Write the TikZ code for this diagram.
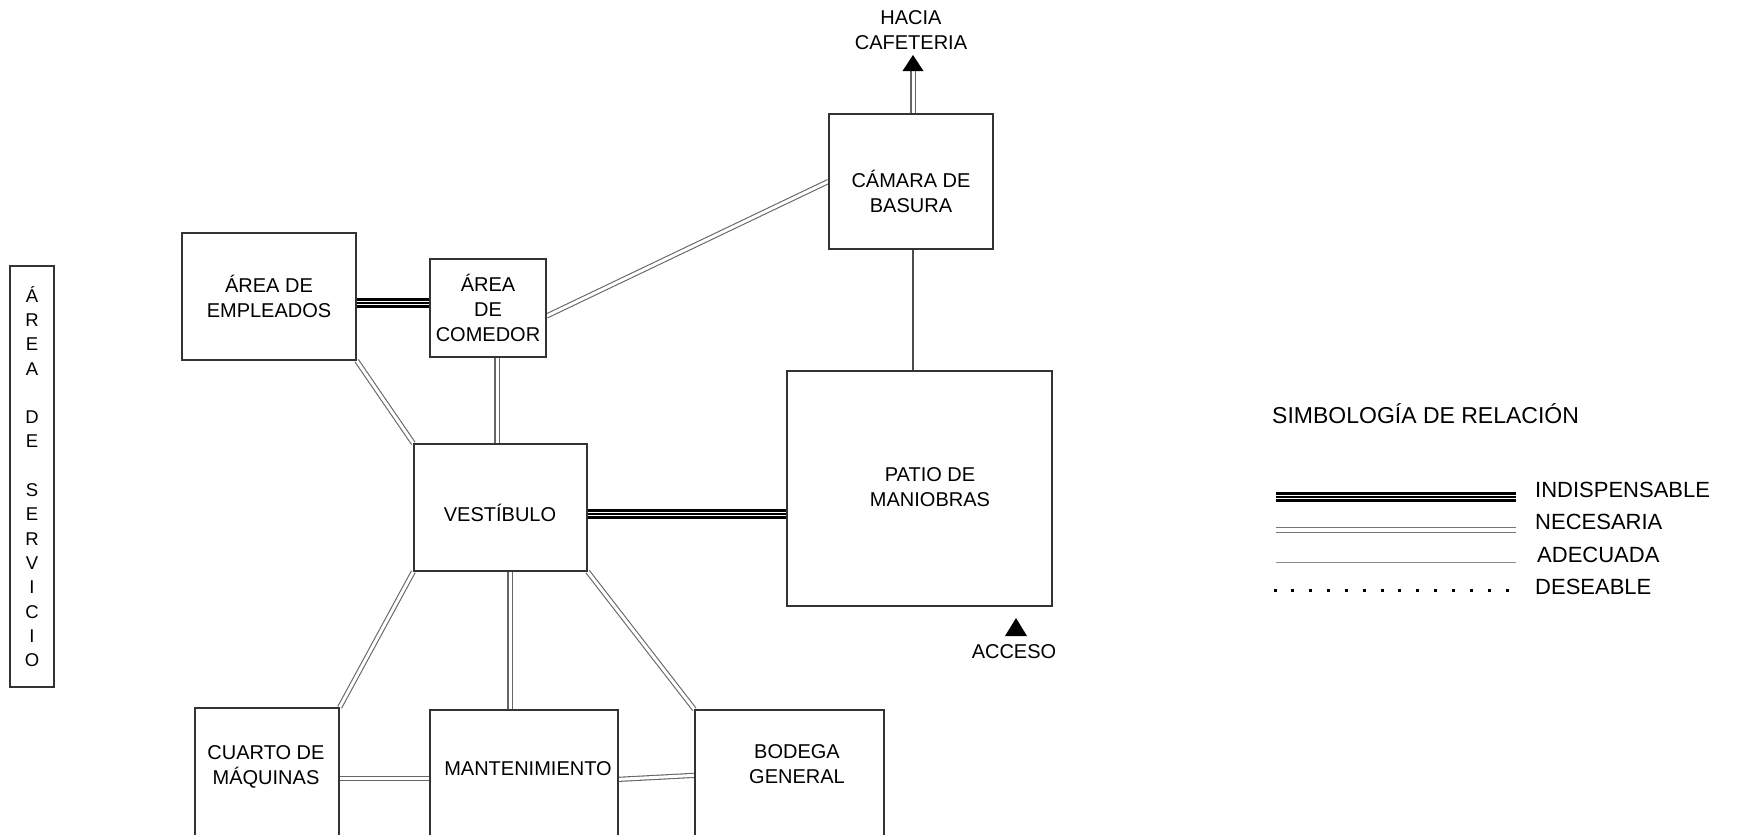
\documentclass[tikz,border=0pt]{standalone}
\usepackage{fontspec}
\setmainfont{Liberation Sans}
\usetikzlibrary{backgrounds}
\begin{document}
\begin{tikzpicture}[x=1pt,y=-1pt,
  box/.style={draw=black!80, line width=1.3pt, inner sep=0pt, align=center, font=\fontsize{20}{25}\selectfont},
  lbl/.style={inner sep=0pt, align=center, font=\fontsize{20}{25}\selectfont},
  nec/.style={draw=black!60, line width=1.1pt, double=white, double distance=3pt},
  ind/.style={draw=black, line width=10pt, postaction={draw=white, line width=3.1pt}, postaction={draw=black, line width=1.2pt}},
  ade/.style={draw=black!70, line width=1.1pt},
  des/.style={draw=black, line width=3pt, dash pattern=on 3pt off 14.85pt},
  leg/.style={inner sep=0pt, anchor=west, text height=15.8pt, text depth=0pt, font=\fontsize{22}{26}\selectfont}]

\useasboundingbox (0,0) rectangle (1738,835);
\clip (0,0) rectangle (1738,835);

% side box
\node[box, minimum width=44pt, minimum height=421pt, font=\fontsize{18.5}{24.3}\selectfont] (serv) at (32,476.5)
  {Á\\R\\E\\A\\[24.3pt]D\\E\\[24.3pt]S\\E\\R\\V\\I\\C\\I\\O};

% boxes
\node[box, minimum width=174pt, minimum height=127pt] (emp) at (269,296.5) {ÁREA DE\\EMPLEADOS};
\node[box, minimum width=116pt, minimum height=98pt] (com) at (488,308) {ÁREA\\DE\\COMEDOR};
\node[box, minimum width=173pt, minimum height=127pt] (ves) at (500.5,507.5) {};
\node[lbl] (vesT) at (500,513) {VESTÍBULO};
\node[box, minimum width=164pt, minimum height=135pt] (cam) at (911,181.5) {};
\node[lbl] (camT) at (911,191) {CÁMARA DE\\BASURA};
\node[box, minimum width=265pt, minimum height=235pt] (patio) at (919.5,488.5) {};
\node[lbl] (patT) at (930,487) {PATIO DE\\MANIOBRAS};
\node[box, minimum width=144pt, minimum height=192pt] (cuarto) at (267,804) {};
\node[lbl] (cuartoT) at (266,767) {CUARTO DE\\MÁQUINAS};
\node[box, minimum width=188pt, minimum height=190pt] (mant) at (524,805) {};
\node[lbl] (mantT) at (528,769) {MANTENIMIENTO};
\node[box, minimum width=189pt, minimum height=190pt] (bod) at (789.5,805) {};
\node[lbl] (bodT) at (797,764) {BODEGA\\GENERAL};

% hacia cafeteria
\coordinate (cafe) at (913,70);
\coordinate (cafetip) at (913,55);
\fill[black] (cafetip) -- ++(10.5,16) -- ++(-21,0) -- cycle;
\node[lbl] (hacia) at (911,30) {HACIA\\CAFETERIA};

% acceso
\coordinate (acctip) at (1016,618);
\fill[black] (acctip) -- ++(11,18) -- ++(-22,0) -- cycle;
\node[lbl] (acceso) at (1014,652) {ACCESO};

% connectors
\begin{scope}[on background layer]
\draw[ind] ([yshift=-6.5pt]emp.east) -- ([yshift=-6.5pt]emp.east -| com.west);
\draw[ind] ([yshift=-6.5pt]ves.east) -- ([yshift=-6.5pt]ves.east -| patio.west);
\draw[nec] ([yshift=-8pt]com.east) -- (cam.west);
\draw[nec] (emp.south east) -- (ves.north west);
\draw[nec] ([xshift=9pt]com.south) -- ([xshift=9pt]com.south |- ves.north);
\draw[nec] (ves.south west) -- (cuarto.north east);
\draw[nec] ([xshift=9.5pt]ves.south) -- ([xshift=9.5pt]ves.south |- mant.north);
\draw[nec] (ves.south east) -- (bod.north west);
\draw[nec] ([yshift=-71pt]cuarto.north east) -- ([yshift=-69pt]mant.north west);
\draw[nec] ([yshift=-70pt]mant.north east) -- ([yshift=-66pt]bod.north west);
\draw[ade] ([xshift=2pt]cam.south) -- ([xshift=2pt]cam.south |- patio.north);
\draw[nec] ([xshift=2pt]cam.north) -- (cafe);
\end{scope}

% legend
\node[leg, text height=16.5pt, font=\fontsize{23}{27}\selectfont] (legT) at (1272,415) {SIMBOLOGÍA DE RELACIÓN};
\coordinate (l1a) at (1276,497); \coordinate (l1b) at (1516,497);
\coordinate (l2a) at (1276,529.5); \coordinate (l2b) at (1516,529.5);
\coordinate (l3a) at (1276,562); \coordinate (l3b) at (1516,562);
\coordinate (l4a) at (1273.5,590); \coordinate (l4b) at (1509,590);
\draw[ind] (l1a) -- (l1b);
\draw[nec, draw=black!55, line width=1pt, double distance=4pt] (l2a) -- (l2b);
\draw[ade, draw=black!45, line width=1pt] (l3a) -- (l3b);
\draw[des] (l4a) -- (l4b);
\node[leg] (legI) at (1535,490) {INDISPENSABLE};
\node[leg] (legN) at (1535,522) {NECESARIA};
\node[leg] (legA) at (1537,555) {ADECUADA};
\node[leg] (legD) at (1535,587) {DESEABLE};
\end{tikzpicture}
\end{document}
